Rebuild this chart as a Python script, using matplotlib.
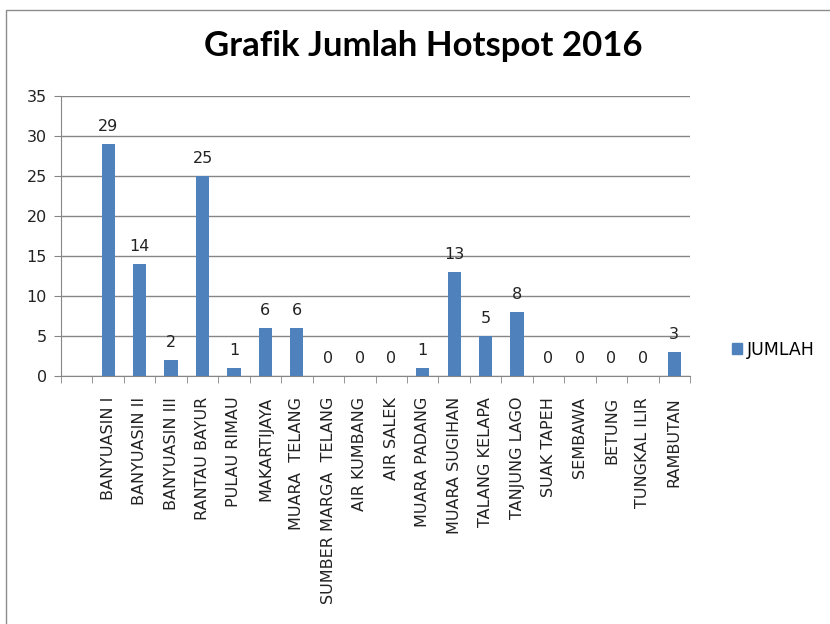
import matplotlib.pyplot as plt
import matplotlib.patches as mpatches
import numpy as np

# data
kecamatan = ["BANYUASIN I", "BANYUASIN II", "BANYUASIN III", "RANTAU BAYUR",
             "PULAU RIMAU", "MAKARTIJAYA", "MUARA  TELANG", "SUMBER MARGA  TELANG",
             "AIR KUMBANG", "AIR SALEK", "MUARA PADANG", "MUARA SUGIHAN",
             "TALANG KELAPA", "TANJUNG LAGO", "SUAK TAPEH", "SEMBAWA",
             "BETUNG", "TUNGKAL ILIR", "RAMBUTAN"]
jumlah = [29, 14, 2, 25, 1, 6, 6, 0, 0, 0, 1, 13, 5, 8, 0, 0, 0, 0, 3]

blue = "#4F81BD"
grey = "#868686"
plt.rcParams['font.family'] = ['DejaVu Sans']

fig = plt.figure(figsize=(8.3, 6.24), dpi=100)
fig.patches.append(mpatches.Rectangle((6/830, -0.1), 1.2, 1 - 10/624 + 0.1,
                                      transform=fig.transFigure, fill=False,
                                      edgecolor="#8c8c8c", linewidth=1))

ax = fig.add_axes([61/830, 1 - 376/624, (690 - 61)/830, (376 - 96)/624])

# first slot of the category axis is left empty, as in the original
x = np.arange(1, len(kecamatan) + 1)
ax.bar(x, jumlah, width=0.42, color=blue, label="JUMLAH", zorder=3)

for xi, v in zip(x, jumlah):
    ax.text(xi, v + 1.3, str(v), ha="center", va="bottom", fontsize=11.5,
            color="#222222")

ax.set_xlim(-0.5, len(kecamatan) + 0.5)
ax.set_ylim(0, 35)
ax.set_yticks(np.arange(0, 36, 5))
ax.yaxis.grid(True, color=grey, linewidth=1, zorder=0)
ax.tick_params(axis="y", length=5, color=grey, labelsize=11.5, pad=5,
               labelcolor="#222222")

ax.set_xticks(x)
ax.set_xticklabels(kecamatan, rotation=90, fontsize=11.5, color="#222222")
ax.tick_params(axis="x", which="major", length=0, pad=15)
ax.set_xticks(np.arange(-0.5, len(kecamatan) + 1, 1), minor=True)
ax.tick_params(axis="x", which="minor", length=5, color=grey)

for side in ["top", "right"]:
    ax.spines[side].set_visible(False)
for side in ["left", "bottom"]:
    ax.spines[side].set_color(grey)

fig.text(423/830, 1 - 46/624, "Grafik Jumlah Hotspot 2016", ha="center",
         va="center", fontsize=25, fontweight="bold", family="Lato")

fig.legend(handles=[mpatches.Patch(color=blue, label="JUMLAH")],
           loc="center left", bbox_to_anchor=(716/830, 1 - 350/624),
           frameon=False, fontsize=12.5, handlelength=0.6, handleheight=0.6,
           handletextpad=0.3)

fig.savefig("out.png", dpi=100)
